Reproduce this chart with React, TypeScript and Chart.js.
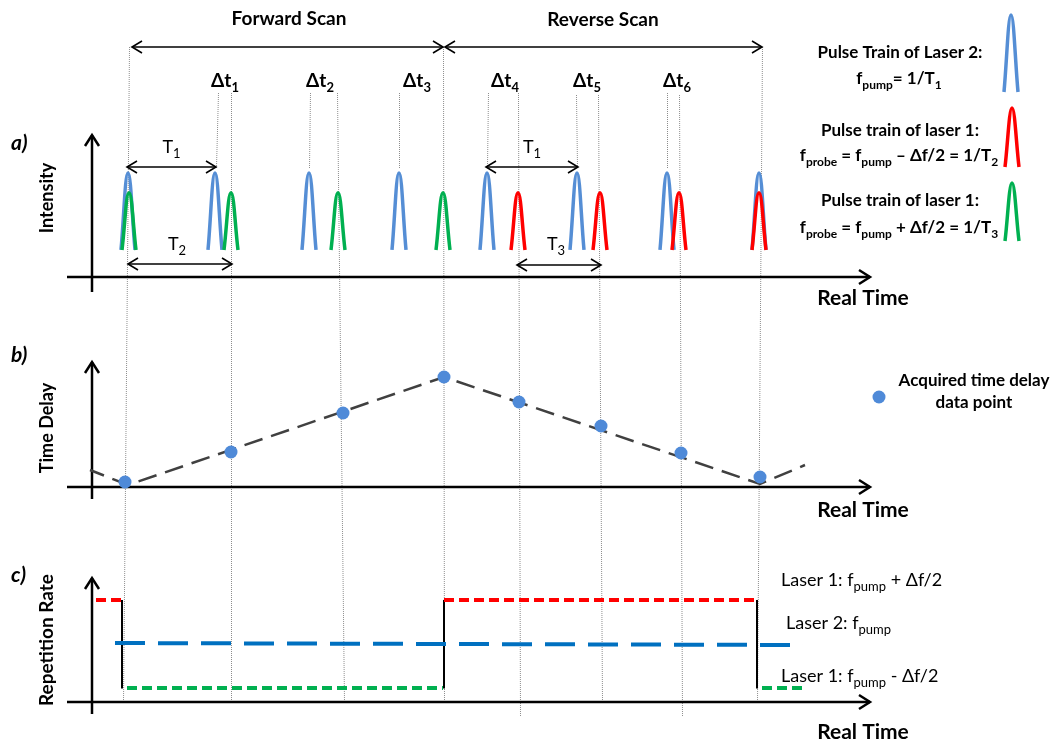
import { useEffect, useRef } from "react";
import { Chart, registerables } from "chart.js";

Chart.register(...registerables);

// ---------- data (real time in arbitrary units) ----------
const bluePulseTimes = [3.6, 12.3, 21.7, 30.7, 39.5, 48.5, 57.5, 66.7];
const greenPulseTimes = [3.7, 13.9, 24.6, 35.1];
const redPulseTimes = [42.6, 50.8, 58.7, 66.7];
const pumpPeak = 1.0;
const probePeak = 0.81;
const pulseFloor = 0.26;
const pulseHalfWidth = 0.7;

const delayTimes = [3.3, 13.9, 25.1, 35.2, 42.7, 50.9, 58.9, 66.8];
const delayValues = [0.5, 3.5, 7.4, 11.0, 8.5, 6.1, 3.4, 1.0];
const trendTimes = [-0.2, 3.6, 35.2, 66.8, 71.3];
const trendValues = [1.7, 0.2, 11.0, 0.3, 2.2];

const rateHigh = 10.2;
const rateLow = 1.4;
const pumpRateTimes = [2.3, 71.1];
const pumpRateValues = [5.9, 5.7];
const highSegments = [
  [0.4, 3.0],
  [35.2, 66.6],
];
const lowSegments = [
  [3.5, 35.1],
  [67.0, 71.1],
];
const switchTimes = [3.0, 35.2, 66.5];

// ---------- texts ----------
const scanLabels = ["Forward Scan", "Reverse Scan"];
const deltaLabels = ["Δt_{1}", "Δt_{2}", "Δt_{3}", "Δt_{4}", "Δt_{5}", "Δt_{6}"];
const periodLabels = ["T_{1}", "T_{1}", "T_{2}", "T_{3}"];
const panelLabels = ["a)", "b)", "c)"];
const axisTitles = ["Intensity", "Time Delay", "Repetition Rate"];
const xTitle = "Real Time";
const legendLines = [
  ["Pulse Train of Laser 2:", "f_{pump}= 1/T_{1}"],
  ["Pulse train of laser 1:", "f_{probe} = f_{pump} – Δf/2 = 1/T_{2}"],
  ["Pulse train of laser 1:", "f_{probe} = f_{pump} + Δf/2 = 1/T_{3}"],
];
const pointLegend = ["Acquired time delay", "data point"];
const rateLabels = ["Laser 1: f_{pump} + Δf/2", "Laser 2: f_{pump}", "Laser 1: f_{pump} - Δf/2"];

const FONT = "Lato, 'Open Sans', sans-serif";
const BLUE = "#558ED5";
const GREEN = "#00B050";
const RED = "#FF0000";

function parseRich(s: string) {
  const parts: { t: string; sub: boolean; w?: number }[] = [];
  const re = /_\{([^}]*)\}/g;
  let last = 0;
  let m: RegExpExecArray | null;
  while ((m = re.exec(s))) {
    if (m.index > last) parts.push({ t: s.slice(last, m.index), sub: false });
    parts.push({ t: m[1], sub: true });
    last = re.lastIndex;
  }
  if (last < s.length) parts.push({ t: s.slice(last), sub: false });
  return parts;
}

function drawRich(
  ctx: CanvasRenderingContext2D,
  s: string,
  x: number,
  y: number,
  size: number,
  weight: string,
  align: "left" | "center" | "right",
  style = ""
) {
  const parts = parseRich(s);
  const subSize = Math.round(size * 0.7);
  const mainFont = `${style} ${weight} ${size}px ${FONT}`;
  const subFont = `${style} ${weight} ${subSize}px ${FONT}`;
  let w = 0;
  parts.forEach((p) => {
    ctx.font = p.sub ? subFont : mainFont;
    p.w = ctx.measureText(p.t).width;
    w += p.w;
  });
  let cx = align === "center" ? x - w / 2 : align === "right" ? x - w : x;
  ctx.textAlign = "left";
  ctx.textBaseline = "alphabetic";
  parts.forEach((p) => {
    ctx.font = p.sub ? subFont : mainFont;
    ctx.fillText(p.t, cx, p.sub ? y + size * 0.28 : y);
    cx += p.w || 0;
  });
}

function chevron(ctx: CanvasRenderingContext2D, x: number, y: number, dx: number, dy: number, len: number, half: number) {
  const n = Math.hypot(dx, dy);
  const ux = dx / n;
  const uy = dy / n;
  ctx.beginPath();
  ctx.moveTo(x - ux * len - uy * half, y - uy * len + ux * half);
  ctx.lineTo(x, y);
  ctx.lineTo(x - ux * len + uy * half, y - uy * len - ux * half);
  ctx.stroke();
}

function arrowLine(
  ctx: CanvasRenderingContext2D,
  x1: number,
  y1: number,
  x2: number,
  y2: number,
  start: boolean,
  end: boolean,
  width: number,
  len: number,
  half: number
) {
  ctx.save();
  ctx.strokeStyle = "#000";
  ctx.lineWidth = width;
  ctx.lineCap = "butt";
  ctx.lineJoin = "miter";
  ctx.beginPath();
  ctx.moveTo(x1, y1);
  ctx.lineTo(x2, y2);
  ctx.stroke();
  if (end) chevron(ctx, x2, y2, x2 - x1, y2 - y1, len, half);
  if (start) chevron(ctx, x1, y1, x1 - x2, y1 - y2, len, half);
  ctx.restore();
}

function pulseIcon(ctx: CanvasRenderingContext2D, x: number, top: number, bottom: number, half: number, color: string) {
  const h = bottom - top;
  ctx.save();
  ctx.strokeStyle = color;
  ctx.lineWidth = 3.5;
  ctx.beginPath();
  ctx.moveTo(x - half, bottom);
  ctx.bezierCurveTo(x - half * 0.6, bottom - h * 0.4, x - half * 0.4, top, x, top);
  ctx.bezierCurveTo(x + half * 0.4, top, x + half * 0.6, bottom - h * 0.4, x + half, bottom);
  ctx.stroke();
  ctx.restore();
}

// guide lines: [xTop, yTop, xBottom, yBottom]
const guides = [
  [129, 47, 123, 703],
  [218, 93, 216, 168],
  [231, 93, 231, 703],
  [310, 93, 309, 168],
  [337, 93, 344, 703],
  [399, 93, 399, 168],
  [443, 47, 444, 703],
  [488, 93, 487, 168],
  [518, 93, 520, 717],
  [576, 95, 577, 168],
  [598, 95, 602, 703],
  [667, 93, 667, 168],
  [679, 95, 682, 717],
  [762, 47, 757, 703],
];

export default function App() {
  const ref = useRef<HTMLCanvasElement | null>(null);

  useEffect(() => {
    const W = 1059;
    const H = 742;
    const xAt0 = 92;
    const xPerUnit = 10;
    const xMin = -xAt0 / xPerUnit;
    const xMax = xMin + W / xPerUnit;
    const yScale = (zeroPx: number, perUnit: number) => {
      const max = zeroPx / perUnit;
      return { min: max - H / perUnit, max };
    };
    const sA = yScale(277, 104);
    const sB = yScale(487, 10);
    const sC = yScale(702, 10);

    const datasets: any[] = [];
    const addPulses = (times: number[], peak: number, color: string, order: number) => {
      times.forEach((t) => {
        datasets.push({
          data: [
            { x: t - pulseHalfWidth, y: pulseFloor },
            { x: t, y: peak },
            { x: t + pulseHalfWidth, y: pulseFloor },
          ],
          yAxisID: "yA",
          borderColor: color,
          borderWidth: 3.5,
          tension: 0.42,
          pointRadius: 0,
          fill: false,
          order,
        });
      });
    };
    addPulses(bluePulseTimes, pumpPeak, BLUE, 6);
    addPulses(greenPulseTimes, probePeak, GREEN, 5);
    addPulses(redPulseTimes, probePeak, RED, 5);

    datasets.push({
      data: trendTimes.map((t, i) => ({ x: t, y: trendValues[i] })),
      yAxisID: "yB",
      borderColor: "#404040",
      borderWidth: 2.5,
      borderDash: [19, 9],
      borderDashOffset: 4,
      pointRadius: 0,
      tension: 0,
      order: 3,
    });
    datasets.push({
      data: delayTimes.map((t, i) => ({ x: t, y: delayValues[i] })),
      yAxisID: "yB",
      showLine: false,
      pointRadius: 6.5,
      pointBackgroundColor: "#4F8AD8",
      pointBorderWidth: 0,
      order: 1,
    });

    const segData = (segs: number[][], v: number) => {
      const out: any[] = [];
      segs.forEach((s, i) => {
        if (i > 0) out.push({ x: (segs[i - 1][1] + s[0]) / 2, y: null });
        out.push({ x: s[0], y: v }, { x: s[1], y: v });
      });
      return out;
    };
    datasets.push({
      data: pumpRateTimes.map((t, i) => ({ x: t, y: pumpRateValues[i] })),
      yAxisID: "yC",
      borderColor: "#0070C0",
      borderWidth: 4,
      borderDash: [30, 13],
      pointRadius: 0,
      order: 3,
    });
    const stepData: any[] = [];
    switchTimes.forEach((t, i) => {
      if (i > 0) stepData.push({ x: (switchTimes[i - 1] + t) / 2, y: null });
      stepData.push({ x: t, y: rateHigh }, { x: t, y: rateLow - 0.05 });
    });
    datasets.push({
      data: stepData,
      yAxisID: "yC",
      borderColor: "#000",
      borderWidth: 2,
      pointRadius: 0,
      spanGaps: false,
      order: 4,
    });
    datasets.push({
      data: segData(highSegments, rateHigh),
      yAxisID: "yC",
      borderColor: RED,
      borderWidth: 4,
      borderDash: [10, 5],
      pointRadius: 0,
      spanGaps: false,
      order: 2,
    });
    datasets.push({
      data: segData(lowSegments, rateLow),
      yAxisID: "yC",
      borderColor: GREEN,
      borderWidth: 4,
      borderDash: [10, 5],
      pointRadius: 0,
      spanGaps: false,
      order: 2,
    });

    const annotations = {
      id: "annotations",
      beforeDatasetsDraw(chart: any) {
        const ctx: CanvasRenderingContext2D = chart.ctx;
        const x = chart.scales.x;
        ctx.save();
        ctx.strokeStyle = "#8c8c8c";
        ctx.lineWidth = 1;
        ctx.setLineDash([1, 1]);
        guides.forEach((g) => {
          ctx.beginPath();
          ctx.moveTo(g[0] + 0.5, g[1]);
          ctx.lineTo(g[2] + 0.5, g[3]);
          ctx.stroke();
        });
        ctx.restore();
        const panels = [
          { id: "yA", top: 135, bottom: 292 },
          { id: "yB", top: 362, bottom: 499 },
          { id: "yC", top: 578, bottom: 714 },
        ];
        panels.forEach((p) => {
          const yz = chart.scales[p.id].getPixelForValue(0);
          const x0 = x.getPixelForValue(0);
          arrowLine(ctx, x.getPixelForValue(-2.5), yz, x.getPixelForValue(77.8), yz, false, true, 2.5, 11, 7);
          arrowLine(ctx, x0, p.bottom, x0, p.top, false, true, 2.5, 11, 7);
        });
      },
      afterDatasetsDraw(chart: any) {
        const ctx: CanvasRenderingContext2D = chart.ctx;
        const x = chart.scales.x;
        ctx.save();
        ctx.fillStyle = "#000";
        arrowLine(ctx, 132, 47, 443, 47, true, true, 1.6, 10, 6);
        arrowLine(ctx, 445, 47, 762, 47, true, true, 1.6, 10, 6);
        drawRich(ctx, scanLabels[0], 289, 25, 19, "bold", "center");
        drawRich(ctx, scanLabels[1], 603, 26, 19, "bold", "center");
        const dtX = [225, 320, 417, 505, 587, 677];
        deltaLabels.forEach((l, i) => drawRich(ctx, l, dtX[i], 87, 19, "bold", "center"));
        const pArrows = [
          [bluePulseTimes[0], bluePulseTimes[1], 167, 153],
          [bluePulseTimes[4], bluePulseTimes[5], 167, 153],
          [greenPulseTimes[0], greenPulseTimes[1], 264, 250],
          [redPulseTimes[0], redPulseTimes[1], 265, 250],
        ];
        pArrows.forEach((a, i) => {
          const x1 = x.getPixelForValue(a[0]) - 1;
          const x2 = x.getPixelForValue(a[1]) + 1;
          arrowLine(ctx, x1, a[2], x2, a[2], true, true, 1.6, 10, 6);
          drawRich(ctx, periodLabels[i], (x1 + x2) / 2 + (i >= 2 ? -3 : 0), a[3], 18, "normal", "center");
        });
        const plY = [150, 362, 582];
        const titleY = [198, 428, 640];
        const realY = [305, 517, 739];
        panelLabels.forEach((l, i) => {
          drawRich(ctx, l, 11, plY[i], 21, "bold", "left", "italic");
          ctx.save();
          ctx.translate(53, titleY[i]);
          ctx.rotate(-Math.PI / 2);
          drawRich(ctx, axisTitles[i], 0, 0, i === 2 ? 19 : 18, "bold", "center");
          ctx.restore();
          drawRich(ctx, xTitle, 863, realY[i], 21, "bold", "center");
        });
        const legY = [
          [58, 84],
          [136, 161],
          [206, 233],
        ];
        legendLines.forEach((ls, i) => {
          drawRich(ctx, ls[0], 900, legY[i][0], 17, "bold", "center");
          drawRich(ctx, ls[1], 899, legY[i][1], 17, "bold", "center");
        });
        pulseIcon(ctx, 1011, 15, 92, 7, BLUE);
        pulseIcon(ctx, 1012, 108, 167, 7, RED);
        pulseIcon(ctx, 1012, 183, 241, 7, GREEN);
        ctx.beginPath();
        ctx.fillStyle = "#4F8AD8";
        ctx.arc(879, 397, 6.5, 0, Math.PI * 2);
        ctx.fill();
        ctx.fillStyle = "#000";
        drawRich(ctx, pointLegend[0], 974, 386, 17, "bold", "center");
        drawRich(ctx, pointLegend[1], 974, 408, 17, "bold", "center");
        const rlY = [586, 629, 682];
        const rlX = [781, 786, 781];
        rateLabels.forEach((l, i) => drawRich(ctx, l, rlX[i], rlY[i], 18, "normal", "left"));
        ctx.restore();
      },
    };

    const chart = new Chart(ref.current as HTMLCanvasElement, {
      type: "line",
      data: { datasets },
      options: {
        animation: false,
        responsive: false,
        maintainAspectRatio: false,
        events: [],
        layout: { padding: 0, autoPadding: false },
        plugins: { legend: { display: false }, tooltip: { enabled: false } },
        scales: {
          x: { type: "linear", min: xMin, max: xMax, display: false },
          yA: { type: "linear", position: "left", min: sA.min, max: sA.max, display: false },
          yB: { type: "linear", position: "left", min: sB.min, max: sB.max, display: false },
          yC: { type: "linear", position: "left", min: sC.min, max: sC.max, display: false },
        },
      } as any,
      plugins: [annotations],
    });
    return () => chart.destroy();
  }, []);

  return (
    <div style={{ position: "absolute", left: 0, top: 0, width: 1059, height: 742, background: "#fff" }}>
      <canvas ref={ref} width={1059} height={742} style={{ display: "block" }} />
    </div>
  );
}
